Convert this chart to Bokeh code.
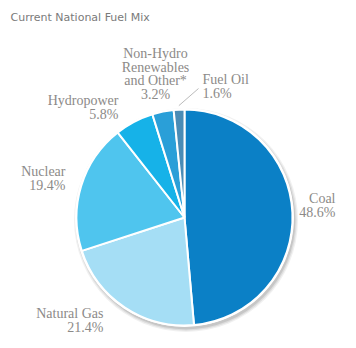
import numpy as np
from bokeh.plotting import figure
from bokeh.models import Range1d
from bokeh.core.properties import value
from bokeh.embed import file_html
from bokeh.resources import INLINE

# ---- data ----
title = "Current National Fuel Mix"
categories = ["Coal", "Natural Gas", "Nuclear", "Hydropower",
              "Non-Hydro\nRenewables\nand Other*", "Fuel Oil"]
shares = [48.6, 21.4, 19.4, 5.8, 3.2, 1.6]
colors = ["#0b80c6", "#a5def5", "#4fc5ee", "#16b2e8", "#2a9fd8", "#4a8cb6"]

# ---- layout (image pixel coords, y downward; y = centre of first line) ----
W, H = 356, 348
CX, CY, R = 184, 217, 108
label_pos = [(335, 198, "right"), (103, 313, "right"), (65, 171, "right"),
             (118, 100, "right"), (155, 53, "center"), (202, 79, "left")]
FONT = "Liberation Serif"
LABEL_COLOR = "#8c8a88"
LINE_H = 13.5

p = figure(width=W, height=H, output_backend="svg", toolbar_location=None,
           x_range=Range1d(0, W), y_range=Range1d(0, H), min_border=0)
p.axis.visible = False
p.grid.visible = False
p.outline_line_color = None
p.background_fill_color = "white"

def Y(y):
    return H - y

vals = np.array(shares)
frac = vals / vals.sum()
cum = np.concatenate([[0], np.cumsum(frac)])
start = np.pi / 2 - cum[1:] * 2 * np.pi
end = np.pi / 2 - cum[:-1] * 2 * np.pi

# shadow
for i, a in enumerate([0.06, 0.08, 0.10]):
    p.circle(x=CX + 1.5, y=Y(CY) - 2.5, radius=R + 4 - i * 1.3, fill_color="#000000",
             fill_alpha=a, line_color=None)
p.circle(x=CX, y=Y(CY), radius=R + 1.5, fill_color="white", line_color=None)

p.wedge(x=CX, y=Y(CY), radius=R, start_angle=start, end_angle=end,
        fill_color=colors, line_color="white", line_width=2)

# connector for Fuel Oil
i = 5
mid = (cum[i] + cum[i + 1]) / 2 * 2 * np.pi
x0 = CX + (R + 4) * np.sin(mid)
y0 = CY - (R + 4) * np.cos(mid)
p.line(x=[x0, 198], y=[Y(y0), Y(88)], line_color="#bbbbbb", line_width=1)

# labels: one text glyph per line for precise line spacing
xs, ys, texts, aligns = [], [], [], []
for cat, v, (lx, ly, al) in zip(categories, shares, label_pos):
    lines = cat.split("\n") + [f"{v:.1f}%"]
    for k, ln in enumerate(lines):
        xs.append(lx)
        ys.append(Y(ly + k * LINE_H))
        texts.append(ln)
        aligns.append(al)
for al in ("left", "center", "right"):
    idx = [j for j, a in enumerate(aligns) if a == al]
    p.text(x=[xs[j] for j in idx], y=[ys[j] for j in idx], text=[texts[j] for j in idx],
           text_align=al, text_baseline="middle",
           text_font=value(FONT), text_font_size="14px", text_color=LABEL_COLOR)

p.text(x=[10], y=[Y(17)], text=[title], text_align="left", text_baseline="middle",
       text_font=value("DejaVu Sans"), text_font_size="11px", text_color="#7a7a7a")

open("out.html", "w").write(file_html(p, INLINE))
